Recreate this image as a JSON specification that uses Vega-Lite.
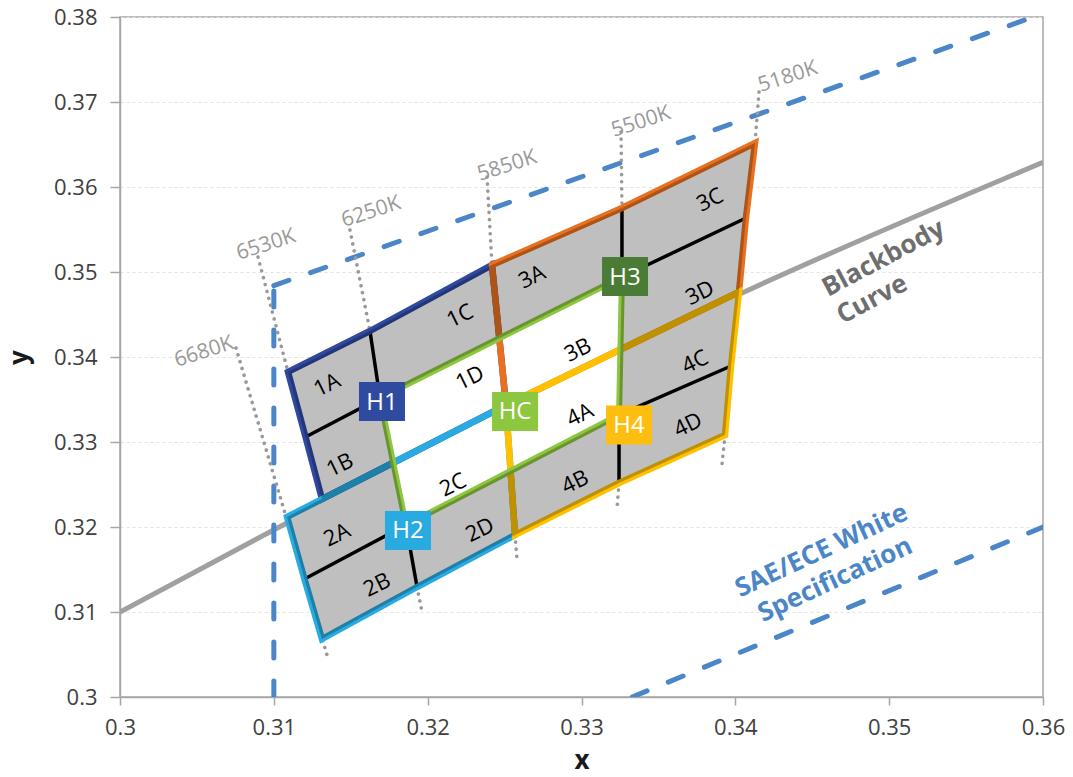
{
  "$schema": "https://vega.github.io/schema/vega-lite/v6.json",
  "width": 923,
  "height": 680,
  "autosize": {"type": "none"},
  "padding": {"left": 120, "top": 17, "right": 30, "bottom": 80},
  "background": "white",
  "config": {"view": {"stroke": "#a6a6a6", "strokeWidth": 1.5}, "font": "Open Sans"},
  "datasets": {
    "geo": [
      {"s": "BB", "i": 0, "x": 0.3, "y": 0.31},
      {"s": "BB", "i": 1, "x": 0.3091, "y": 0.3188},
      {"s": "BB", "i": 2, "x": 0.3404, "y": 0.3475},
      {"s": "BB", "i": 3, "x": 0.36, "y": 0.3629},
      {"s": "SA", "i": 0, "x": 0.31, "y": 0.3},
      {"s": "SA", "i": 1, "x": 0.31, "y": 0.3484},
      {"s": "SB", "i": 0, "x": 0.31, "y": 0.3484},
      {"s": "SB", "i": 1, "x": 0.36, "y": 0.3804},
      {"s": "SC", "i": 0, "x": 0.3333, "y": 0.3},
      {"s": "SC", "i": 1, "x": 0.36, "y": 0.32},
      {"s": "T1", "i": 0, "x": 0.30754, "y": 0.34106},
      {"s": "T1", "i": 1, "x": 0.31346, "y": 0.30494},
      {"s": "T2", "i": 0, "x": 0.30897, "y": 0.35176},
      {"s": "T2", "i": 1, "x": 0.31092, "y": 0.33824},
      {"s": "T3", "i": 0, "x": 0.31495, "y": 0.35494},
      {"s": "T3", "i": 1, "x": 0.31625, "y": 0.34306},
      {"s": "T4", "i": 0, "x": 0.32386, "y": 0.36118},
      {"s": "T4", "i": 1, "x": 0.32418, "y": 0.35082},
      {"s": "T5", "i": 0, "x": 0.33257, "y": 0.36647},
      {"s": "T5", "i": 1, "x": 0.33263, "y": 0.35753},
      {"s": "T6", "i": 0, "x": 0.34154, "y": 0.37118},
      {"s": "T6", "i": 1, "x": 0.34128, "y": 0.36518},
      {"s": "T7", "i": 0, "x": 0.31931, "y": 0.31294},
      {"s": "T7", "i": 1, "x": 0.31963, "y": 0.31},
      {"s": "T8", "i": 0, "x": 0.32568, "y": 0.31906},
      {"s": "T8", "i": 1, "x": 0.32581, "y": 0.31612},
      {"s": "T9", "i": 0, "x": 0.33244, "y": 0.32518},
      {"s": "T9", "i": 1, "x": 0.33231, "y": 0.32224},
      {"s": "T10", "i": 0, "x": 0.33933, "y": 0.33082},
      {"s": "T10", "i": 1, "x": 0.33913, "y": 0.32729},
      {"s": "U", "i": 0, "x": 0.31092, "y": 0.33824},
      {"s": "U", "i": 1, "x": 0.31625, "y": 0.34306},
      {"s": "U", "i": 2, "x": 0.32418, "y": 0.35082},
      {"s": "U", "i": 3, "x": 0.33263, "y": 0.35753},
      {"s": "U", "i": 4, "x": 0.34128, "y": 0.36518},
      {"s": "U", "i": 5, "x": 0.34069, "y": 0.35635},
      {"s": "U", "i": 6, "x": 0.34024, "y": 0.34765},
      {"s": "U", "i": 7, "x": 0.33972, "y": 0.33894},
      {"s": "U", "i": 8, "x": 0.33933, "y": 0.33082},
      {"s": "U", "i": 9, "x": 0.33244, "y": 0.32518},
      {"s": "U", "i": 10, "x": 0.32568, "y": 0.31906},
      {"s": "U", "i": 11, "x": 0.31931, "y": 0.31294},
      {"s": "U", "i": 12, "x": 0.31313, "y": 0.30682},
      {"s": "U", "i": 13, "x": 0.31199, "y": 0.31388},
      {"s": "U", "i": 14, "x": 0.31086, "y": 0.32118},
      {"s": "U", "i": 15, "x": 0.31313, "y": 0.32328},
      {"s": "U", "i": 16, "x": 0.31206, "y": 0.33059},
      {"s": "G1", "i": 0, "x": 0.31092, "y": 0.33824},
      {"s": "G1", "i": 1, "x": 0.31625, "y": 0.34306},
      {"s": "G1", "i": 2, "x": 0.32418, "y": 0.35082},
      {"s": "G1", "i": 3, "x": 0.32466, "y": 0.3422},
      {"s": "G1", "i": 4, "x": 0.3169, "y": 0.33518},
      {"s": "G1", "i": 5, "x": 0.31776, "y": 0.32756},
      {"s": "G1", "i": 6, "x": 0.31313, "y": 0.32328},
      {"s": "G1", "i": 7, "x": 0.31206, "y": 0.33059},
      {"s": "G2", "i": 0, "x": 0.31086, "y": 0.32118},
      {"s": "G2", "i": 1, "x": 0.31313, "y": 0.32328},
      {"s": "G2", "i": 2, "x": 0.31776, "y": 0.32756},
      {"s": "G2", "i": 3, "x": 0.31859, "y": 0.32024},
      {"s": "G2", "i": 4, "x": 0.32539, "y": 0.32659},
      {"s": "G2", "i": 5, "x": 0.32568, "y": 0.31906},
      {"s": "G2", "i": 6, "x": 0.31931, "y": 0.31294},
      {"s": "G2", "i": 7, "x": 0.31313, "y": 0.30682},
      {"s": "G2", "i": 8, "x": 0.31199, "y": 0.31388},
      {"s": "G3", "i": 0, "x": 0.32418, "y": 0.35082},
      {"s": "G3", "i": 1, "x": 0.33263, "y": 0.35753},
      {"s": "G3", "i": 2, "x": 0.34128, "y": 0.36518},
      {"s": "G3", "i": 3, "x": 0.34069, "y": 0.35635},
      {"s": "G3", "i": 4, "x": 0.34024, "y": 0.34765},
      {"s": "G3", "i": 5, "x": 0.33253, "y": 0.34088},
      {"s": "G3", "i": 6, "x": 0.33263, "y": 0.34941},
      {"s": "G3", "i": 7, "x": 0.32466, "y": 0.3422},
      {"s": "G4", "i": 0, "x": 0.33253, "y": 0.34088},
      {"s": "G4", "i": 1, "x": 0.34024, "y": 0.34765},
      {"s": "G4", "i": 2, "x": 0.33972, "y": 0.33894},
      {"s": "G4", "i": 3, "x": 0.33933, "y": 0.33082},
      {"s": "G4", "i": 4, "x": 0.33244, "y": 0.32518},
      {"s": "G4", "i": 5, "x": 0.32568, "y": 0.31906},
      {"s": "G4", "i": 6, "x": 0.32539, "y": 0.32659},
      {"s": "G4", "i": 7, "x": 0.33244, "y": 0.33318},
      {"s": "D1", "i": 0, "x": 0.31206, "y": 0.33059},
      {"s": "D1", "i": 1, "x": 0.3169, "y": 0.33518},
      {"s": "D1", "i": 2, "x": 0.31625, "y": 0.34306},
      {"s": "D2", "i": 0, "x": 0.31199, "y": 0.31388},
      {"s": "D2", "i": 1, "x": 0.31859, "y": 0.32024},
      {"s": "D2", "i": 2, "x": 0.31931, "y": 0.31294},
      {"s": "D3", "i": 0, "x": 0.33263, "y": 0.35753},
      {"s": "D3", "i": 1, "x": 0.33263, "y": 0.34941},
      {"s": "D3", "i": 2, "x": 0.34069, "y": 0.35635},
      {"s": "D4", "i": 0, "x": 0.33972, "y": 0.33894},
      {"s": "D4", "i": 1, "x": 0.33244, "y": 0.33318},
      {"s": "D4", "i": 2, "x": 0.33244, "y": 0.32518},
      {"s": "O1", "i": 0, "x": 0.31625, "y": 0.34306},
      {"s": "O1", "i": 1, "x": 0.32418, "y": 0.35082},
      {"s": "O1", "i": 2, "x": 0.32466, "y": 0.3422},
      {"s": "O1", "i": 3, "x": 0.32509, "y": 0.33435},
      {"s": "O1", "i": 4, "x": 0.31776, "y": 0.32756},
      {"s": "O1", "i": 5, "x": 0.31313, "y": 0.32328},
      {"s": "O1", "i": 6, "x": 0.31206, "y": 0.33059},
      {"s": "O1", "i": 7, "x": 0.31092, "y": 0.33824},
      {"s": "O1", "i": 8, "x": 0.31625, "y": 0.34306},
      {"s": "O2", "i": 0, "x": 0.31931, "y": 0.31294},
      {"s": "O2", "i": 1, "x": 0.31313, "y": 0.30682},
      {"s": "O2", "i": 2, "x": 0.31199, "y": 0.31388},
      {"s": "O2", "i": 3, "x": 0.31086, "y": 0.32118},
      {"s": "O2", "i": 4, "x": 0.31313, "y": 0.32328},
      {"s": "O2", "i": 5, "x": 0.31776, "y": 0.32756},
      {"s": "O2", "i": 6, "x": 0.32509, "y": 0.33435},
      {"s": "O2", "i": 7, "x": 0.32539, "y": 0.32659},
      {"s": "O2", "i": 8, "x": 0.32568, "y": 0.31906},
      {"s": "O2", "i": 9, "x": 0.31931, "y": 0.31294},
      {"s": "O3", "i": 0, "x": 0.33263, "y": 0.35753},
      {"s": "O3", "i": 1, "x": 0.34128, "y": 0.36518},
      {"s": "O3", "i": 2, "x": 0.34069, "y": 0.35635},
      {"s": "O3", "i": 3, "x": 0.34024, "y": 0.34765},
      {"s": "O3", "i": 4, "x": 0.33253, "y": 0.34088},
      {"s": "O3", "i": 5, "x": 0.32509, "y": 0.33435},
      {"s": "O3", "i": 6, "x": 0.32466, "y": 0.3422},
      {"s": "O3", "i": 7, "x": 0.32418, "y": 0.35082},
      {"s": "O3", "i": 8, "x": 0.33263, "y": 0.35753},
      {"s": "O4", "i": 0, "x": 0.33972, "y": 0.33894},
      {"s": "O4", "i": 1, "x": 0.33933, "y": 0.33082},
      {"s": "O4", "i": 2, "x": 0.33244, "y": 0.32518},
      {"s": "O4", "i": 3, "x": 0.32568, "y": 0.31906},
      {"s": "O4", "i": 4, "x": 0.32539, "y": 0.32659},
      {"s": "O4", "i": 5, "x": 0.32509, "y": 0.33435},
      {"s": "O4", "i": 6, "x": 0.33253, "y": 0.34088},
      {"s": "O4", "i": 7, "x": 0.34024, "y": 0.34765},
      {"s": "O4", "i": 8, "x": 0.33972, "y": 0.33894},
      {"s": "OC", "i": 0, "x": 0.32466, "y": 0.3422},
      {"s": "OC", "i": 1, "x": 0.33263, "y": 0.34941},
      {"s": "OC", "i": 2, "x": 0.33253, "y": 0.34088},
      {"s": "OC", "i": 3, "x": 0.33244, "y": 0.33318},
      {"s": "OC", "i": 4, "x": 0.32539, "y": 0.32659},
      {"s": "OC", "i": 5, "x": 0.31859, "y": 0.32024},
      {"s": "OC", "i": 6, "x": 0.31776, "y": 0.32756},
      {"s": "OC", "i": 7, "x": 0.3169, "y": 0.33518},
      {"s": "OC", "i": 8, "x": 0.32466, "y": 0.3422}
    ],
    "txt": [
      {"k": "sub", "t": "1A", "x": 0.31346, "y": 0.33671},
      {"k": "sub", "t": "1B", "x": 0.3143, "y": 0.32729},
      {"k": "sub", "t": "1C", "x": 0.3221, "y": 0.34482},
      {"k": "sub", "t": "1D", "x": 0.32275, "y": 0.33753},
      {"k": "sub", "t": "2A", "x": 0.31411, "y": 0.31906},
      {"k": "sub", "t": "2B", "x": 0.31671, "y": 0.31318},
      {"k": "sub", "t": "2C", "x": 0.32165, "y": 0.32494},
      {"k": "sub", "t": "2D", "x": 0.3234, "y": 0.31965},
      {"k": "sub", "t": "3A", "x": 0.32678, "y": 0.34941},
      {"k": "sub", "t": "3B", "x": 0.32977, "y": 0.34082},
      {"k": "sub", "t": "3C", "x": 0.33835, "y": 0.35847},
      {"k": "sub", "t": "3D", "x": 0.3377, "y": 0.34753},
      {"k": "sub", "t": "4A", "x": 0.3299, "y": 0.33318},
      {"k": "sub", "t": "4B", "x": 0.32958, "y": 0.32529},
      {"k": "sub", "t": "4C", "x": 0.33738, "y": 0.33941},
      {"k": "sub", "t": "4D", "x": 0.33692, "y": 0.332},
      {"k": "temp", "t": "6680K", "x": 0.30546, "y": 0.34059},
      {"k": "temp", "t": "6530K", "x": 0.30949, "y": 0.35318},
      {"k": "temp", "t": "6250K", "x": 0.31632, "y": 0.35706},
      {"k": "temp", "t": "5850K", "x": 0.32516, "y": 0.36247},
      {"k": "temp", "t": "5500K", "x": 0.33387, "y": 0.36765},
      {"k": "temp", "t": "5180K", "x": 0.34342, "y": 0.37294},
      {"k": "box", "t": "H1", "x": 0.31703, "y": 0.33476},
      {"k": "box", "t": "H2", "x": 0.31872, "y": 0.31959},
      {"k": "box", "t": "H3", "x": 0.33283, "y": 0.34947},
      {"k": "box", "t": "HC", "x": 0.32568, "y": 0.33359},
      {"k": "box", "t": "H4", "x": 0.33309, "y": 0.332},
      {"k": "bb", "t": "Blackbody\nCurve", "x": 0.34602, "y": 0.34706},
      {"k": "sae", "t": "SAE/ECE White\nSpecification", "x": 0.34583, "y": 0.31635}
    ]
  },
  "encoding": {
    "x": {
      "field": "x", "type": "quantitative",
      "scale": {"domain": [0.3, 0.36], "nice": false, "zero": false},
      "axis": {
        "title": "x", "values": [0.3, 0.31, 0.32, 0.33, 0.34, 0.35, 0.36], "format": ".2~f",
        "grid": false, "labelFlush": false, "labelOverlap": false,
        "domainColor": "#a6a6a6", "domainWidth": 1.5, "tickColor": "#a6a6a6", "tickWidth": 1.5, "tickSize": 8,
        "labelFont": "Open Sans", "labelFontSize": 22, "labelColor": "#404040", "labelPadding": 12,
        "titleFont": "Open Sans", "titleFontSize": 26, "titleFontWeight": "bold", "titleColor": "#1a1a1a",
        "titleY": 71, "titleBaseline": "alphabetic"
      }
    },
    "y": {
      "field": "y", "type": "quantitative",
      "scale": {"domain": [0.3, 0.38], "nice": false, "zero": false},
      "axis": {
        "title": "y", "values": [0.3, 0.31, 0.32, 0.33, 0.34, 0.35, 0.36, 0.37, 0.38], "format": ".2~f",
        "grid": true, "gridColor": "#e3e3e3", "gridDash": [3, 3], "gridWidth": 1,
        "labelFlush": false, "labelOverlap": false,
        "domainColor": "#a6a6a6", "domainWidth": 1.5, "tickColor": "#a6a6a6", "tickWidth": 1.5, "tickSize": 10,
        "labelFont": "Open Sans", "labelFontSize": 22, "labelColor": "#404040", "labelPadding": 13,
        "titleFont": "Open Sans", "titleFontSize": 26, "titleFontWeight": "bold", "titleColor": "#1a1a1a",
        "titleX": -101, "titleY": 340, "titleAngle": 270, "titleBaseline": "middle", "titleAlign": "center"
      }
    }
  },
  "layer": [
    {
      "data": {"name": "geo"},
      "transform": [{"filter": "datum.s === 'BB'"}],
      "mark": {"type": "line", "stroke": "#a0a0a0", "strokeWidth": 5, "interpolate": "monotone", "clip": true},
      "encoding": {"order": {"field": "i", "type": "quantitative"}}
    },
    {
      "data": {"name": "geo"},
      "transform": [{"filter": {"field": "s", "oneOf": ["SA", "SB", "SC"]}}],
      "mark": {"type": "line", "stroke": "#4a86c8", "strokeWidth": 5, "strokeDash": [16, 23], "strokeCap": "round", "clip": true},
      "encoding": {"detail": {"field": "s"}, "order": {"field": "i", "type": "quantitative"}}
    },
    {
      "data": {"name": "geo"},
      "transform": [{"filter": {"field": "s", "oneOf": ["T1", "T2", "T3", "T4", "T5", "T6", "T7", "T8", "T9", "T10"]}}],
      "mark": {"type": "line", "stroke": "#999999", "strokeWidth": 3.6, "strokeDash": [0.1, 7], "strokeCap": "round"},
      "encoding": {"detail": {"field": "s"}, "order": {"field": "i", "type": "quantitative"}}
    },
    {
      "data": {"name": "geo"},
      "transform": [{"filter": "datum.s === 'U'"}],
      "mark": {"type": "line", "fill": "#ffffff", "stroke": "#ffffff", "strokeWidth": 1},
      "encoding": {"order": {"field": "i", "type": "quantitative"}}
    },
    {
      "data": {"name": "geo"},
      "transform": [{"filter": {"field": "s", "oneOf": ["D1", "D2", "D3", "D4"]}}],
      "mark": {"type": "line", "stroke": "#000000", "strokeWidth": 3.5},
      "encoding": {"detail": {"field": "s"}, "order": {"field": "i", "type": "quantitative"}}
    },
    {
      "data": {"name": "geo"},
      "transform": [{"filter": "datum.s === 'O1'"}],
      "mark": {"type": "line", "stroke": "#2f48a0", "strokeWidth": 6.5, "strokeJoin": "miter"},
      "encoding": {"order": {"field": "i", "type": "quantitative"}}
    },
    {
      "data": {"name": "geo"},
      "transform": [{"filter": "datum.s === 'O2'"}],
      "mark": {"type": "line", "stroke": "#29abe2", "strokeWidth": 6.5, "strokeJoin": "miter"},
      "encoding": {"order": {"field": "i", "type": "quantitative"}}
    },
    {
      "data": {"name": "geo"},
      "transform": [{"filter": "datum.s === 'O3'"}],
      "mark": {"type": "line", "stroke": "#e8701f", "strokeWidth": 6.5, "strokeJoin": "miter"},
      "encoding": {"order": {"field": "i", "type": "quantitative"}}
    },
    {
      "data": {"name": "geo"},
      "transform": [{"filter": "datum.s === 'O4'"}],
      "mark": {"type": "line", "stroke": "#ffc000", "strokeWidth": 6.5, "strokeJoin": "miter"},
      "encoding": {"order": {"field": "i", "type": "quantitative"}}
    },
    {
      "data": {"name": "geo"},
      "transform": [{"filter": "datum.s === 'OC'"}],
      "mark": {"type": "line", "stroke": "#8dc63f", "strokeWidth": 6, "strokeJoin": "miter"},
      "encoding": {"order": {"field": "i", "type": "quantitative"}}
    },
    {
      "data": {"name": "geo"},
      "transform": [{"filter": {"field": "s", "oneOf": ["G1", "G2", "G3", "G4"]}}],
      "mark": {"type": "line", "fill": "#000000", "fillOpacity": 0.25, "stroke": "#000000", "strokeOpacity": 0},
      "encoding": {"detail": {"field": "s"}, "order": {"field": "i", "type": "quantitative"}}
    },
    {
      "data": {"name": "txt"},
      "transform": [{"filter": "datum.k === 'box'"}],
      "mark": {"type": "point", "shape": "M-1,-0.848L1,-0.848L1,0.848L-1,0.848Z", "size": 2116, "filled": true, "opacity": 1, "strokeWidth": 0},
      "encoding": {
        "color": {"field": "t", "type": "nominal", "legend": null,
          "scale": {"domain": ["H1", "H2", "H3", "HC", "H4"], "range": ["#2f4b9f", "#29abe2", "#4a7c36", "#8dc63f", "#fdbe10"]}}
      }
    },
    {
      "data": {"name": "txt"},
      "transform": [{"filter": "datum.k === 'box'"}],
      "mark": {"type": "text", "color": "#ffffff", "fontSize": 24, "font": "Open Sans", "align": "center", "baseline": "middle", "dy": 1},
      "encoding": {"text": {"field": "t"}}
    },
    {
      "data": {"name": "txt"},
      "transform": [{"filter": "datum.k === 'sub'"}],
      "mark": {"type": "text", "color": "#000000", "fontSize": 22, "font": "Open Sans", "align": "center", "baseline": "middle", "angle": -26},
      "encoding": {"text": {"field": "t"}}
    },
    {
      "data": {"name": "txt"},
      "transform": [{"filter": "datum.k === 'temp'"}],
      "mark": {"type": "text", "color": "#999999", "fontSize": 21, "font": "Open Sans", "align": "center", "baseline": "middle", "angle": -18},
      "encoding": {"text": {"field": "t"}}
    },
    {
      "data": {"name": "txt"},
      "transform": [{"filter": "datum.k === 'bb'"}],
      "mark": {"type": "text", "color": "#6e6e6e", "fontSize": 26, "fontWeight": "bold", "font": "Open Sans", "align": "left", "baseline": "alphabetic", "angle": -28, "lineBreak": "\n", "lineHeight": 31},
      "encoding": {"text": {"field": "t"}}
    },
    {
      "data": {"name": "txt"},
      "transform": [{"filter": "datum.k === 'sae'"}],
      "mark": {"type": "text", "color": "#4a86c8", "fontSize": 26, "fontWeight": "bold", "font": "Open Sans", "align": "center", "baseline": "alphabetic", "angle": -25, "lineBreak": "\n", "lineHeight": 32},
      "encoding": {"text": {"field": "t"}}
    }
  ]
}
